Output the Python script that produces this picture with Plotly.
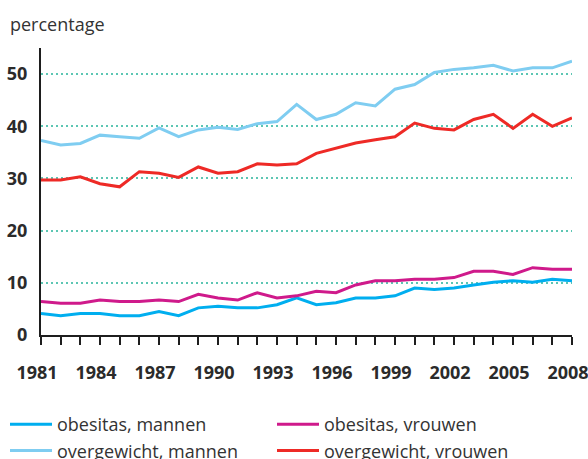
import plotly.graph_objects as go

# Survey years
years = list(range(1981, 2009))

# Share of adults (%) per category
obesitas_mannen = [4.1, 3.7, 4.1, 4.1, 3.7, 3.7, 4.5, 3.7, 5.2, 5.5, 5.2, 5.2, 5.8, 7.1,
                   5.8, 6.2, 7.1, 7.1, 7.5, 9.0, 8.7, 9.0, 9.6, 10.1, 10.4, 10.1, 10.7, 10.4]
obesitas_vrouwen = [6.4, 6.1, 6.1, 6.7, 6.4, 6.4, 6.7, 6.4, 7.8, 7.1, 6.7, 8.1, 7.1, 7.5,
                    8.4, 8.1, 9.6, 10.4, 10.4, 10.7, 10.7, 11.0, 12.2, 12.2, 11.6, 12.9, 12.6, 12.6]
overgewicht_mannen = [37.3, 36.4, 36.7, 38.3, 38.0, 37.7, 39.7, 38.0, 39.3, 39.8, 39.4, 40.5, 40.9, 44.2,
                      41.3, 42.3, 44.5, 43.9, 47.1, 48.0, 50.3, 50.9, 51.2, 51.7, 50.6, 51.2, 51.2, 52.5]
overgewicht_vrouwen = [29.7, 29.7, 30.3, 29.0, 28.4, 31.3, 31.0, 30.2, 32.2, 31.0, 31.3, 32.8, 32.6, 32.8,
                       34.8, 35.8, 36.8, 37.4, 38.0, 40.6, 39.6, 39.3, 41.3, 42.3, 39.6, 42.3, 40.0, 41.6]

x_tick_years = list(range(1981, 2009, 3))
y_tick_values = [0, 10, 20, 30, 40, 50]

# name, values, colour, legend column
series = [
    ("obesitas, mannen", obesitas_mannen, "#00aeef", "legend"),
    ("overgewicht, mannen", overgewicht_mannen, "#7fcdf1", "legend"),
    ("obesitas, vrouwen", obesitas_vrouwen, "#cf1a8b", "legend2"),
    ("overgewicht, vrouwen", overgewicht_vrouwen, "#ee2a26", "legend2"),
]

fig = go.Figure()
for name, values, color, legend_id in series:
    fig.add_trace(go.Scatter(
        x=years, y=values, name=name, mode="lines",
        line=dict(color=color, width=3), legend=legend_id,
    ))

axis_color = "#1e1e1e"
legend_font = dict(size=18, color="#333333", family="Open Sans")
legend_common = dict(
    orientation="v", xref="container", yref="container",
    xanchor="left", y=1 - 406 / 459, yanchor="top",
    font=legend_font, tracegroupgap=0, itemwidth=42,
    bgcolor="rgba(0,0,0,0)",
)

fig.update_layout(
    width=588, height=459,
    margin=dict(l=41, r=16, t=48, b=124, autoexpand=False),
    plot_bgcolor="white", paper_bgcolor="white",
    font=dict(family="Open Sans", color="#2b2b2b"),
    showlegend=True,
    legend=dict(x=5 / 588, **legend_common),
    legend2=dict(x=272 / 588, **legend_common),
    annotations=[dict(
        text="percentage", xref="paper", yref="paper",
        x=-33 / 531, y=1.0, xanchor="left", yanchor="bottom", yshift=10,
        showarrow=False, font=dict(size=18, color="#333333"),
    )],
)

fig.update_xaxes(
    range=[1981, 2008],
    tickmode="array", tickvals=x_tick_years, ticktext=[str(y) for y in x_tick_years],
    ticks="outside", ticklen=8, tickwidth=2, tickcolor=axis_color,
    minor=dict(dtick=1, tick0=1981, ticks="outside", ticklen=8, tickwidth=2, tickcolor=axis_color, showgrid=False),
    showline=True, linecolor=axis_color, linewidth=2,
    showgrid=False, zeroline=False,
    tickfont=dict(size=18, family="Open Sans", weight="bold", color="#2b2b2b"),
    ticklabelstandoff=12, ticklabelshift=-4, ticklabeloverflow="allow",
)
fig.update_yaxes(
    range=[0, 55],
    tickmode="array", tickvals=y_tick_values,
    ticks="", showline=True, linecolor=axis_color, linewidth=2,
    showgrid=True, gridcolor="#5cc6b3", gridwidth=1.5, griddash="2px,3px",
    zeroline=False,
    tickfont=dict(size=18, family="Open Sans", weight="bold", color="#2b2b2b"),
    ticklabelstandoff=8,
)

fig.write_html("out.html")
